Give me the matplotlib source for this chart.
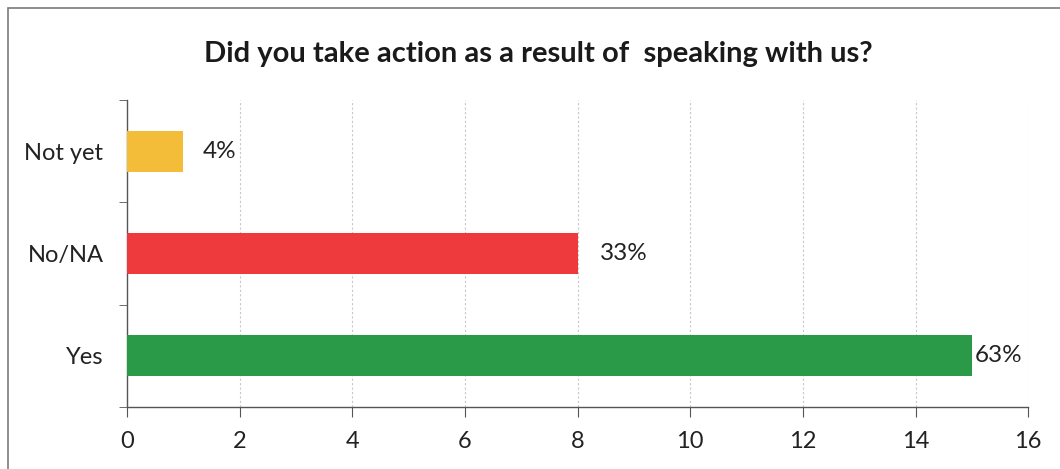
import matplotlib.pyplot as plt
from matplotlib.patches import Rectangle

categories = ['Yes', 'No/NA', 'Not yet']
counts = [15, 8, 1]
pct_labels = ['63%', '33%', '4%']
colors = ['#2a9a48', '#ef3a3d', '#f3bd3a']
label_offsets_px = [3, 22, 19]

plt.rcParams['font.family'] = ['Lato', 'DejaVu Sans']

fig = plt.figure(figsize=(10.6, 4.69), dpi=100)
ax = fig.add_axes([0.1198, 0.132, 0.8502, 0.655])

pos = list(range(len(categories)))
ax.barh(pos, counts, height=0.4, color=colors, zorder=3)

for p, v, lab, off in zip(pos, counts, pct_labels, label_offsets_px):
    ax.annotate(lab, (v, p), xytext=(off * 0.72, 0), textcoords='offset points',
                ha='left', va='center', fontsize=17.5, color='#222222')

ax.set_xlim(0, 16)
ax.set_ylim(-0.5, 2.5)
ax.set_xticks(range(0, 17, 2))
ax.set_yticks(pos)
ax.set_yticklabels(categories)
ax.set_yticks([-0.5, 0.5, 1.5, 2.5], minor=True)
ax.tick_params(axis='y', which='major', length=0, pad=17, labelsize=17, labelcolor='#222222')
ax.tick_params(axis='y', which='minor', length=6, color='#555555', direction='out')
ax.tick_params(axis='x', length=7, color='#555555', direction='out', pad=10,
               labelsize=17, labelcolor='#222222')

ax.grid(axis='x', color='#c8c8c8', linestyle=(0, (2, 2)), linewidth=0.8, zorder=0)
for s in ['top', 'right']:
    ax.spines[s].set_visible(False)
for s in ['left', 'bottom']:
    ax.spines[s].set_color('#555555')
    ax.spines[s].set_linewidth(1.0)

fig.text(0.508, 0.885, 'Did you take action as a result of  speaking with us?',
         ha='center', va='center', fontsize=21, fontweight='bold', color='#1a1a1a')

fig.patches.append(Rectangle((8 / 1060, -0.05), 1.1, 1 - 8 / 469 + 0.05,
                             transform=fig.transFigure, fill=False,
                             edgecolor='#7a7a7a', linewidth=1.2))

fig.savefig('out.png', dpi=100)
